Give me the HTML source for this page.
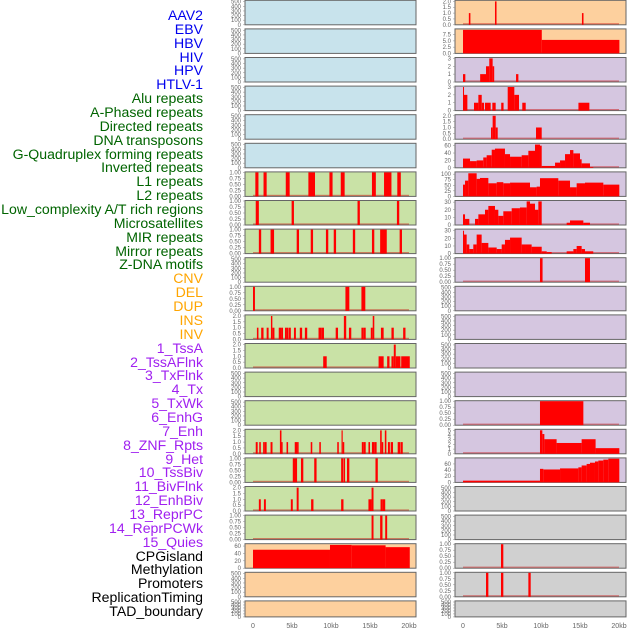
<!DOCTYPE html>
<html><head><meta charset="utf-8">
<style>
body{margin:0;background:#fff;width:630px;height:630px;overflow:hidden;font-family:"Liberation Sans",sans-serif;}
#lab{position:absolute;left:0;top:0;width:630px;height:630px;}
.lb{position:absolute;right:427px;font-size:14.1px;line-height:14px;white-space:nowrap;}
svg{position:absolute;left:0;top:0;}
</style></head><body>
<div id="lab"></div>
<svg id="chart" width="630" height="630"></svg>
<script>
const labelNames=["AAV2","EBV","HBV","HIV","HPV","HTLV-1","Alu repeats","A-Phased repeats","Directed repeats","DNA transposons","G-Quadruplex forming repeats","Inverted repeats","L1 repeats","L2 repeats","Low_complexity A/T rich regions","Microsatellites","MIR repeats","Mirror repeats","Z-DNA motifs","CNV","DEL","DUP","INS","INV","1_TssA","2_TssAFlnk","3_TxFlnk","4_Tx","5_TxWk","6_EnhG","7_Enh","8_ZNF_Rpts","9_Het","10_TssBiv","11_BivFlnk","12_EnhBiv","13_ReprPC","14_ReprPCWk","15_Quies","CPGisland","Methylation","Promoters","ReplicationTiming","TAD_boundary"];
const labelGroups=[6,13,5,15,5];
const groupColors=["#0000ee","#006400","#ffa500","#a020f0","#000000"];
const xTickKb=[0,5,10,15,20];
const xTickLabels=["0","5kb","10kb","15kb","20kb"];
const L6=[[0.3,0.7,1],[1.35,1.75,1],[4.2,4.7,1],[7.1,7.95,1],[9.8,10.2,1],[11.25,11.75,1],[15.25,15.75,1],[16.8,17.75,1],[18.5,18.95,1]];
const L7=[[0.35,0.75,1],[4.95,5.25,1],[13.4,13.7,1],[18.45,18.75,1]];
const L8=[[0.75,1.05,1],[2.25,2.7,1],[5.6,5.9,1],[7.4,7.7,1],[9.35,9.65,1],[10.35,10.65,1],[12.8,13.1,1],[15.25,15.55,1],[16.3,17.15,1],[18.8,19.1,1]];
const L10=[[0,0.25,1],[11.85,12.35,1],[13.9,14.4,1]];
const L11=[[0.5,0.7,1],[1.05,1.35,1],[1.75,2.0,1],[2.3,2.48,2],[2.48,2.75,1],[3.3,3.6,1],[3.6,3.85,1],[4.1,4.35,1],[4.35,4.55,1],[4.6,4.85,1],[5.25,5.5,1],[6.0,6.3,1],[6.65,6.95,1],[8.4,8.75,1],[8.75,9.1,1],[10.6,10.9,1],[11.65,11.95,2],[12.3,12.6,1],[13.9,14.2,1],[14.2,14.45,1],[15.1,15.35,1],[15.35,15.55,2],[16.4,16.75,1],[17.75,18.05,1],[19.25,19.55,1]];
const L12=[[9.0,9.45,1],[16.1,16.75,1],[17.2,17.5,1],[17.75,18.05,1],[18.05,18.3,2],[18.3,18.9,1],[19.0,20.1,1]];
const L15=[[0.35,0.6,1],[0.8,1.0,1],[1.3,1.5,1],[1.5,1.75,1],[2.25,2.5,1],[3.45,3.65,2],[3.65,3.8,1],[4.3,4.5,1],[5.35,5.65,1],[5.65,5.85,1],[7.4,7.6,1],[8.5,8.7,1],[10.8,11.0,1],[11.35,11.5,2],[11.5,11.7,1],[13.95,14.2,1],[14.2,14.45,1],[14.8,15.0,1],[15.25,15.55,1],[15.55,15.85,1],[16.3,16.5,2],[16.5,16.7,1],[16.9,17.1,2],[17.3,17.55,1],[17.65,17.95,1],[18.55,18.85,1],[18.9,19.2,1]];
const L16=[[5.1,5.65,1],[6.15,6.45,1],[7.85,8.15,1],[11.3,11.55,1],[11.6,11.8,1],[12.05,12.35,1],[15.7,16.0,1]];
const L17=[[0.75,1.0,1],[1.4,1.65,1],[4.85,5.1,1],[5.6,5.85,2],[7.45,7.75,1],[11.3,11.6,1],[14.8,15.2,1],[15.2,15.45,2],[16.35,16.65,1],[16.65,16.95,1]];
const L18=[[15.2,15.45,1],[16.3,16.6,1],[16.95,17.2,1]];
const L19=[[0,9.87,50],[9.87,12.65,63],[12.65,17.0,62],[17.0,20.1,57]];
const R0=[[0.75,0.95,1],[4.1,4.3,2],[15.25,15.45,1]];
const R1=[[0,10.1,9.4],[10.1,20.05,5.4]];
const R2=[[0,0.3,1],[2.2,2.95,1],[2.95,3.37,2],[3.37,3.8,3],[3.8,4.0,2],[6.8,7.1,1]];
const R3=[[0,0.13,3],[0.13,0.56,2],[1.41,1.97,1],[1.97,2.4,2],[2.4,2.7,1],[2.82,3.55,1],[3.76,4.19,1],[4.9,5.2,1],[5.73,6.58,3],[6.58,7.18,2],[7.6,8.04,1],[14.8,16.2,1]];
const R4=[[3.59,3.8,1],[3.8,4.19,2],[4.19,4.45,1],[9.36,10.09,1]];
const R5=[[0,0.9,25],[0.9,1.75,18],[1.75,2.6,20],[2.6,3.03,28],[3.03,3.68,34],[3.68,4.1,49],[4.1,5.38,52],[5.38,6.03,37],[6.03,7.52,30],[7.52,8.38,34],[8.38,9.23,46],[9.23,9.87,63],[9.87,10.09,60],[10.09,11.8,5],[11.8,12.44,14],[12.44,13.08,20],[13.08,13.72,37],[13.72,14.15,48],[14.15,15.0,39],[15.0,15.21,23],[15.21,16.28,12],[16.28,16.7,2]];
const R6=[[0,0.26,53],[0.26,0.68,71],[0.68,1.75,104],[1.75,2.18,79],[2.18,3.25,83],[3.25,4.32,59],[4.32,5.17,64],[5.17,6.03,59],[6.03,8.59,62],[8.59,9.44,41],[9.44,9.87,44],[9.87,12.22,82],[12.22,13.72,71],[13.72,14.57,41],[14.57,15.64,59],[15.64,17.99,62],[17.99,20.04,53]];
const R7=[[0,0.26,14],[0.26,0.81,8],[1.54,1.97,8],[1.97,2.82,14],[2.82,3.25,20],[3.25,4.1,25],[4.1,4.53,20],[4.53,5.17,12],[5.17,6.24,18],[6.24,7.3,22],[7.3,8.16,23],[8.16,8.59,31],[8.59,9.23,28],[9.23,9.66,20],[9.66,10.09,31],[13.29,13.72,3],[13.72,15.43,6],[15.43,16.28,3]];
const R8=[[0,0.13,30],[0.13,0.47,25],[0.47,0.81,12],[0.81,1.32,6],[1.32,1.75,12],[1.75,2.39,25],[2.39,3.25,14],[3.25,4.32,8],[4.32,4.96,6],[4.96,5.38,12],[5.38,6.03,18],[6.03,7.52,21],[7.52,7.95,12],[7.95,8.8,12],[8.8,10.09,9],[10.09,10.73,3],[10.73,11.37,2],[13.29,14.15,3],[14.15,14.57,6],[14.57,15.21,10],[15.21,15.64,6],[15.64,16.7,3]];
const R9=[[9.87,10.2,1],[15.64,16.28,1]];
const R14=[[9.87,15.43,1]];
const R15=[[9.87,10.17,5],[10.17,10.43,4.2],[10.43,12.0,3.1],[12.0,15.21,2.3],[15.21,17.0,3.1],[17.0,20.04,1.2]];
const R16=[[0,9.87,5.5],[9.87,10.3,44],[10.3,12.44,42],[12.44,14.79,45.5],[14.79,15.21,49],[15.21,15.85,55],[15.85,16.28,60],[16.28,16.92,64],[16.92,17.35,68],[17.35,17.99,71],[17.99,18.63,74],[18.63,20.04,77]];
const R19=[[4.87,5.17,1]];
const R20=[[2.95,3.25,1],[4.87,5.17,1],[8.38,8.68,1]];

const T500=["0","100","200","300","400","500"],T1=["0.00","0.25","0.50","0.75","1.00"],T2=["0.0","0.5","1.0","1.5","2.0"],T3=["0","1","2","3"];
function tk(labels){return labels.map(Number);}
const BLUE="#c8e3ec",GREEN="#c9e2a6",ORANGE="#fdd09e",PURPLE="#d5c6e0",GRAY="#d0d0d0";
const leftPanels=[];const rightPanels=[];
for(let i=0;i<22;i++){leftPanels.push({bg:i<6?BLUE:(i<19?GREEN:ORANGE),d:null,t:T500,m:520});rightPanels.push({bg:i<2?ORANGE:(i<17?PURPLE:GRAY),d:null,t:T500,m:520});}
function setP(p,d,t,m){p.d=d;p.t=t;p.m=m;}
setP(leftPanels[6],L6,T1,1);setP(leftPanels[7],L7,T1,1);setP(leftPanels[8],L8,T1,1);
setP(leftPanels[10],L10,T1,1);setP(leftPanels[11],L11,T2,2.05);setP(leftPanels[12],L12,T2,2.05);
setP(leftPanels[15],L15,T2,2.05);setP(leftPanels[16],L16,T1,1);setP(leftPanels[17],L17,T2,2.05);
setP(leftPanels[18],L18,T1,1);setP(leftPanels[19],L19,["0","20","40","60"],65);
setP(rightPanels[0],R0,T2,2.05);setP(rightPanels[1],R1,["0.0","2.5","5.0","7.5"],9.6);
setP(rightPanels[2],R2,T3,3.05);setP(rightPanels[3],R3,T3,3.05);setP(rightPanels[4],R4,T2,2.05);
setP(rightPanels[5],R5,["0","20","40","60"],65);setP(rightPanels[6],R6,["0","25","50","75","100"],108);
setP(rightPanels[7],R7,["0","10","20","30"],31.5);setP(rightPanels[8],R8,["0","10","20","30"],31.5);
setP(rightPanels[9],R9,T1,1);setP(rightPanels[14],R14,T1,1);
setP(rightPanels[15],R15,["0","1","2","3","4","5"],5.1);setP(rightPanels[16],R16,["0","20","40","60"],78);
setP(rightPanels[19],R19,T1,1);setP(rightPanels[20],R20,T1,1);

const lab=document.getElementById('lab');
let gi=0,cnt=0;
labelNames.forEach((n,i)=>{
  while(cnt>=labelGroups[gi]){cnt-=labelGroups[gi];gi++;}
  cnt++;
  const d=document.createElement('div');d.className='lb';
  
  
  d.style.top=(8+i*13.86)+'px';d.style.color=groupColors[gi];d.textContent=n;lab.appendChild(d);
});
const svg=document.getElementById('chart');const NS="http://www.w3.org/2000/svg";
function el(t,a,p){const e=document.createElementNS(NS,t);for(const k in a)e.setAttribute(k,a[k]);(p||svg).appendChild(e);return e;}
function drawCol(panels,x0,side){
  const xs=kb=>x0+8+kb*7.8;
  panels.forEach((p,i)=>{
    const top=0.3+i*28.6,h=(i==21?16:24.5),bot=top+h;
    const g=el('g',{});
    
    
    el('rect',{x:x0,y:top,width:171,height:h,fill:p.bg,stroke:"#666","stroke-width":1},g);
    const ys=v=>bot-v/p.m*(h-0.5);
    if(p.d){
      el('rect',{x:xs(0),y:bot-1.6,width:xs(20)-xs(0),height:1.2,fill:"rgba(200,0,0,0.45)"},g);
      p.d.forEach(s=>{const r=el('rect',{x:xs(s[0]),y:ys(s[2]),width:Math.max(xs(s[1])-xs(s[0]),0.8),height:bot-ys(s[2]),fill:"#ff0000"},g);
        
        });
    }
    tk(p.t).forEach((v,j)=>{const y=ys(v);
      el('line',{x1:x0-2,x2:x0,y1:y,y2:y,stroke:"#888","stroke-width":0.5},g);
      const t=el('text',{x:x0-4,y:y+2,"text-anchor":"end","font-size":6,fill:"#666"},g);t.textContent=p.t[j];});
  });
  xTickKb.forEach((k,j)=>{const t=el('text',{x:xs(k),y:628,"text-anchor":"middle","font-size":7,fill:"#666"});
    
    
    t.textContent=xTickLabels[j];});
}
drawCol(leftPanels,245,'left');
drawCol(rightPanels,455,'right');
</script>
</body></html>
